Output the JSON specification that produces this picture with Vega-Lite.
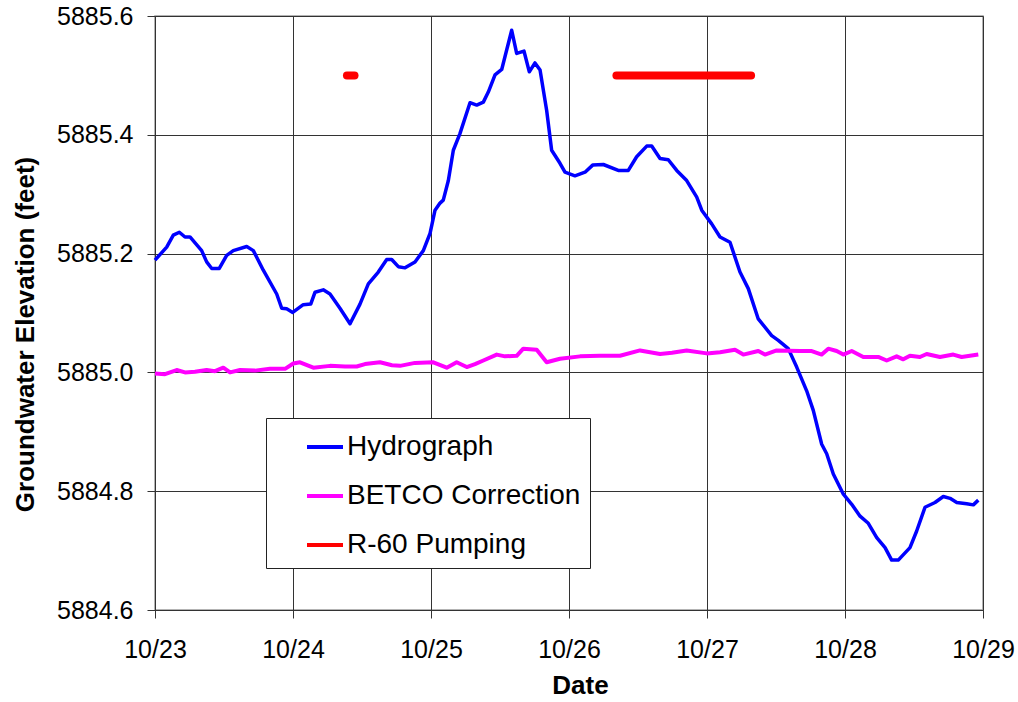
{
  "$schema": "https://vega.github.io/schema/vega-lite/v6.json",
  "autosize": {"type": "none"},
  "padding": {"left": 155, "top": 16, "right": 35, "bottom": 92},
  "width": 828,
  "height": 594,
  "background": "white",
  "config": {
    "font": "Liberation Sans",
    "view": {"stroke": "#9a9a9a", "strokeWidth": 1.5},
    "axis": {
      "labelFont": "Liberation Sans",
      "titleFont": "Liberation Sans",
      "labelColor": "black",
      "titleColor": "black",
      "domainColor": "#333333",
      "tickColor": "#333333",
      "gridColor": "#333333",
      "gridWidth": 1,
      "gridOpacity": 1,
      "tickSize": 8
    }
  },
  "data": {
    "values": [
      {"s": "Hydrograph", "g": 0, "t": "2008-10-23T00:00Z", "v": 5885.189},
      {"s": "Hydrograph", "g": 0, "t": "2008-10-23T02:02Z", "v": 5885.211},
      {"s": "Hydrograph", "g": 0, "t": "2008-10-23T03:11Z", "v": 5885.231},
      {"s": "Hydrograph", "g": 0, "t": "2008-10-23T04:14Z", "v": 5885.236},
      {"s": "Hydrograph", "g": 0, "t": "2008-10-23T05:13Z", "v": 5885.228},
      {"s": "Hydrograph", "g": 0, "t": "2008-10-23T06:05Z", "v": 5885.228},
      {"s": "Hydrograph", "g": 0, "t": "2008-10-23T08:07Z", "v": 5885.205},
      {"s": "Hydrograph", "g": 0, "t": "2008-10-23T08:59Z", "v": 5885.186},
      {"s": "Hydrograph", "g": 0, "t": "2008-10-23T09:52Z", "v": 5885.175},
      {"s": "Hydrograph", "g": 0, "t": "2008-10-23T11:11Z", "v": 5885.175},
      {"s": "Hydrograph", "g": 0, "t": "2008-10-23T12:28Z", "v": 5885.197},
      {"s": "Hydrograph", "g": 0, "t": "2008-10-23T13:37Z", "v": 5885.205},
      {"s": "Hydrograph", "g": 0, "t": "2008-10-23T15:57Z", "v": 5885.212},
      {"s": "Hydrograph", "g": 0, "t": "2008-10-23T17:06Z", "v": 5885.205},
      {"s": "Hydrograph", "g": 0, "t": "2008-10-23T18:50Z", "v": 5885.172},
      {"s": "Hydrograph", "g": 0, "t": "2008-10-23T21:10Z", "v": 5885.132},
      {"s": "Hydrograph", "g": 0, "t": "2008-10-23T22:02Z", "v": 5885.108},
      {"s": "Hydrograph", "g": 0, "t": "2008-10-23T22:54Z", "v": 5885.107},
      {"s": "Hydrograph", "g": 0, "t": "2008-10-23T23:57Z", "v": 5885.101},
      {"s": "Hydrograph", "g": 0, "t": "2008-10-24T01:47Z", "v": 5885.114},
      {"s": "Hydrograph", "g": 0, "t": "2008-10-24T03:05Z", "v": 5885.115},
      {"s": "Hydrograph", "g": 0, "t": "2008-10-24T03:50Z", "v": 5885.135},
      {"s": "Hydrograph", "g": 0, "t": "2008-10-24T05:16Z", "v": 5885.139},
      {"s": "Hydrograph", "g": 0, "t": "2008-10-24T06:26Z", "v": 5885.132},
      {"s": "Hydrograph", "g": 0, "t": "2008-10-24T08:10Z", "v": 5885.108},
      {"s": "Hydrograph", "g": 0, "t": "2008-10-24T09:55Z", "v": 5885.082},
      {"s": "Hydrograph", "g": 0, "t": "2008-10-24T11:39Z", "v": 5885.115},
      {"s": "Hydrograph", "g": 0, "t": "2008-10-24T13:06Z", "v": 5885.149},
      {"s": "Hydrograph", "g": 0, "t": "2008-10-24T14:50Z", "v": 5885.169},
      {"s": "Hydrograph", "g": 0, "t": "2008-10-24T16:18Z", "v": 5885.190},
      {"s": "Hydrograph", "g": 0, "t": "2008-10-24T17:10Z", "v": 5885.190},
      {"s": "Hydrograph", "g": 0, "t": "2008-10-24T18:19Z", "v": 5885.178},
      {"s": "Hydrograph", "g": 0, "t": "2008-10-24T19:29Z", "v": 5885.176},
      {"s": "Hydrograph", "g": 0, "t": "2008-10-24T21:13Z", "v": 5885.186},
      {"s": "Hydrograph", "g": 0, "t": "2008-10-24T22:40Z", "v": 5885.205},
      {"s": "Hydrograph", "g": 0, "t": "2008-10-24T23:50Z", "v": 5885.234},
      {"s": "Hydrograph", "g": 0, "t": "2008-10-25T00:42Z", "v": 5885.273},
      {"s": "Hydrograph", "g": 0, "t": "2008-10-25T01:34Z", "v": 5885.285},
      {"s": "Hydrograph", "g": 0, "t": "2008-10-25T02:08Z", "v": 5885.290},
      {"s": "Hydrograph", "g": 0, "t": "2008-10-25T03:01Z", "v": 5885.323},
      {"s": "Hydrograph", "g": 0, "t": "2008-10-25T03:53Z", "v": 5885.374},
      {"s": "Hydrograph", "g": 0, "t": "2008-10-25T05:02Z", "v": 5885.402},
      {"s": "Hydrograph", "g": 0, "t": "2008-10-25T06:47Z", "v": 5885.454},
      {"s": "Hydrograph", "g": 0, "t": "2008-10-25T07:57Z", "v": 5885.450},
      {"s": "Hydrograph", "g": 0, "t": "2008-10-25T09:06Z", "v": 5885.455},
      {"s": "Hydrograph", "g": 0, "t": "2008-10-25T09:58Z", "v": 5885.472},
      {"s": "Hydrograph", "g": 0, "t": "2008-10-25T11:08Z", "v": 5885.501},
      {"s": "Hydrograph", "g": 0, "t": "2008-10-25T12:18Z", "v": 5885.510},
      {"s": "Hydrograph", "g": 0, "t": "2008-10-25T14:02Z", "v": 5885.576},
      {"s": "Hydrograph", "g": 0, "t": "2008-10-25T14:54Z", "v": 5885.537},
      {"s": "Hydrograph", "g": 0, "t": "2008-10-25T16:10Z", "v": 5885.541},
      {"s": "Hydrograph", "g": 0, "t": "2008-10-25T17:06Z", "v": 5885.506},
      {"s": "Hydrograph", "g": 0, "t": "2008-10-25T18:05Z", "v": 5885.521},
      {"s": "Hydrograph", "g": 0, "t": "2008-10-25T18:58Z", "v": 5885.509},
      {"s": "Hydrograph", "g": 0, "t": "2008-10-25T20:07Z", "v": 5885.441},
      {"s": "Hydrograph", "g": 0, "t": "2008-10-25T20:59Z", "v": 5885.374},
      {"s": "Hydrograph", "g": 0, "t": "2008-10-25T22:26Z", "v": 5885.352},
      {"s": "Hydrograph", "g": 0, "t": "2008-10-25T23:18Z", "v": 5885.337},
      {"s": "Hydrograph", "g": 0, "t": "2008-10-26T01:02Z", "v": 5885.331},
      {"s": "Hydrograph", "g": 0, "t": "2008-10-26T02:47Z", "v": 5885.337},
      {"s": "Hydrograph", "g": 0, "t": "2008-10-26T04:07Z", "v": 5885.349},
      {"s": "Hydrograph", "g": 0, "t": "2008-10-26T05:58Z", "v": 5885.350},
      {"s": "Hydrograph", "g": 0, "t": "2008-10-26T08:34Z", "v": 5885.340},
      {"s": "Hydrograph", "g": 0, "t": "2008-10-26T10:19Z", "v": 5885.340},
      {"s": "Hydrograph", "g": 0, "t": "2008-10-26T11:46Z", "v": 5885.363},
      {"s": "Hydrograph", "g": 0, "t": "2008-10-26T13:31Z", "v": 5885.381},
      {"s": "Hydrograph", "g": 0, "t": "2008-10-26T14:23Z", "v": 5885.381},
      {"s": "Hydrograph", "g": 0, "t": "2008-10-26T15:50Z", "v": 5885.360},
      {"s": "Hydrograph", "g": 0, "t": "2008-10-26T17:16Z", "v": 5885.358},
      {"s": "Hydrograph", "g": 0, "t": "2008-10-26T18:44Z", "v": 5885.340},
      {"s": "Hydrograph", "g": 0, "t": "2008-10-26T20:28Z", "v": 5885.323},
      {"s": "Hydrograph", "g": 0, "t": "2008-10-26T22:13Z", "v": 5885.295},
      {"s": "Hydrograph", "g": 0, "t": "2008-10-26T23:05Z", "v": 5885.273},
      {"s": "Hydrograph", "g": 0, "t": "2008-10-27T00:49Z", "v": 5885.250},
      {"s": "Hydrograph", "g": 0, "t": "2008-10-27T02:16Z", "v": 5885.228},
      {"s": "Hydrograph", "g": 0, "t": "2008-10-27T04:00Z", "v": 5885.219},
      {"s": "Hydrograph", "g": 0, "t": "2008-10-27T05:44Z", "v": 5885.169},
      {"s": "Hydrograph", "g": 0, "t": "2008-10-27T07:11Z", "v": 5885.141},
      {"s": "Hydrograph", "g": 0, "t": "2008-10-27T08:55Z", "v": 5885.090},
      {"s": "Hydrograph", "g": 0, "t": "2008-10-27T11:15Z", "v": 5885.062},
      {"s": "Hydrograph", "g": 0, "t": "2008-10-27T12:24Z", "v": 5885.054},
      {"s": "Hydrograph", "g": 0, "t": "2008-10-27T14:08Z", "v": 5885.040},
      {"s": "Hydrograph", "g": 0, "t": "2008-10-27T15:36Z", "v": 5885.009},
      {"s": "Hydrograph", "g": 0, "t": "2008-10-27T17:20Z", "v": 5884.969},
      {"s": "Hydrograph", "g": 0, "t": "2008-10-27T18:29Z", "v": 5884.936},
      {"s": "Hydrograph", "g": 0, "t": "2008-10-27T19:57Z", "v": 5884.879},
      {"s": "Hydrograph", "g": 0, "t": "2008-10-27T20:49Z", "v": 5884.863},
      {"s": "Hydrograph", "g": 0, "t": "2008-10-27T21:58Z", "v": 5884.829},
      {"s": "Hydrograph", "g": 0, "t": "2008-10-27T23:43Z", "v": 5884.795},
      {"s": "Hydrograph", "g": 0, "t": "2008-10-28T01:10Z", "v": 5884.778},
      {"s": "Hydrograph", "g": 0, "t": "2008-10-28T02:37Z", "v": 5884.758},
      {"s": "Hydrograph", "g": 0, "t": "2008-10-28T04:03Z", "v": 5884.746},
      {"s": "Hydrograph", "g": 0, "t": "2008-10-28T05:31Z", "v": 5884.722},
      {"s": "Hydrograph", "g": 0, "t": "2008-10-28T06:58Z", "v": 5884.705},
      {"s": "Hydrograph", "g": 0, "t": "2008-10-28T08:07Z", "v": 5884.684},
      {"s": "Hydrograph", "g": 0, "t": "2008-10-28T09:16Z", "v": 5884.684},
      {"s": "Hydrograph", "g": 0, "t": "2008-10-28T11:18Z", "v": 5884.705},
      {"s": "Hydrograph", "g": 0, "t": "2008-10-28T12:28Z", "v": 5884.733},
      {"s": "Hydrograph", "g": 0, "t": "2008-10-28T13:55Z", "v": 5884.773},
      {"s": "Hydrograph", "g": 0, "t": "2008-10-28T15:39Z", "v": 5884.781},
      {"s": "Hydrograph", "g": 0, "t": "2008-10-28T17:06Z", "v": 5884.791},
      {"s": "Hydrograph", "g": 0, "t": "2008-10-28T18:16Z", "v": 5884.788},
      {"s": "Hydrograph", "g": 0, "t": "2008-10-28T19:26Z", "v": 5884.781},
      {"s": "Hydrograph", "g": 0, "t": "2008-10-28T21:10Z", "v": 5884.779},
      {"s": "Hydrograph", "g": 0, "t": "2008-10-28T22:19Z", "v": 5884.777},
      {"s": "Hydrograph", "g": 0, "t": "2008-10-28T23:11Z", "v": 5884.785},

      {"s": "BETCO Correction", "g": 0, "t": "2008-10-23T00:00Z", "v": 5884.998},
      {"s": "BETCO Correction", "g": 0, "t": "2008-10-23T01:44Z", "v": 5884.997},
      {"s": "BETCO Correction", "g": 0, "t": "2008-10-23T03:46Z", "v": 5885.004},
      {"s": "BETCO Correction", "g": 0, "t": "2008-10-23T05:13Z", "v": 5885.000},
      {"s": "BETCO Correction", "g": 0, "t": "2008-10-23T06:57Z", "v": 5885.001},
      {"s": "BETCO Correction", "g": 0, "t": "2008-10-23T08:59Z", "v": 5885.004},
      {"s": "BETCO Correction", "g": 0, "t": "2008-10-23T10:26Z", "v": 5885.002},
      {"s": "BETCO Correction", "g": 0, "t": "2008-10-23T11:53Z", "v": 5885.008},
      {"s": "BETCO Correction", "g": 0, "t": "2008-10-23T13:03Z", "v": 5885.000},
      {"s": "BETCO Correction", "g": 0, "t": "2008-10-23T14:47Z", "v": 5885.004},
      {"s": "BETCO Correction", "g": 0, "t": "2008-10-23T17:23Z", "v": 5885.003},
      {"s": "BETCO Correction", "g": 0, "t": "2008-10-23T20:00Z", "v": 5885.006},
      {"s": "BETCO Correction", "g": 0, "t": "2008-10-23T22:37Z", "v": 5885.006},
      {"s": "BETCO Correction", "g": 0, "t": "2008-10-24T00:03Z", "v": 5885.015},
      {"s": "BETCO Correction", "g": 0, "t": "2008-10-24T01:13Z", "v": 5885.017},
      {"s": "BETCO Correction", "g": 0, "t": "2008-10-24T03:32Z", "v": 5885.008},
      {"s": "BETCO Correction", "g": 0, "t": "2008-10-24T06:26Z", "v": 5885.011},
      {"s": "BETCO Correction", "g": 0, "t": "2008-10-24T09:03Z", "v": 5885.010},
      {"s": "BETCO Correction", "g": 0, "t": "2008-10-24T11:05Z", "v": 5885.010},
      {"s": "BETCO Correction", "g": 0, "t": "2008-10-24T12:31Z", "v": 5885.014},
      {"s": "BETCO Correction", "g": 0, "t": "2008-10-24T15:08Z", "v": 5885.017},
      {"s": "BETCO Correction", "g": 0, "t": "2008-10-24T17:13Z", "v": 5885.012},
      {"s": "BETCO Correction", "g": 0, "t": "2008-10-24T18:37Z", "v": 5885.011},
      {"s": "BETCO Correction", "g": 0, "t": "2008-10-24T21:13Z", "v": 5885.016},
      {"s": "BETCO Correction", "g": 0, "t": "2008-10-25T00:24Z", "v": 5885.017},
      {"s": "BETCO Correction", "g": 0, "t": "2008-10-25T02:44Z", "v": 5885.008},
      {"s": "BETCO Correction", "g": 0, "t": "2008-10-25T04:28Z", "v": 5885.017},
      {"s": "BETCO Correction", "g": 0, "t": "2008-10-25T06:13Z", "v": 5885.009},
      {"s": "BETCO Correction", "g": 0, "t": "2008-10-25T07:39Z", "v": 5885.014},
      {"s": "BETCO Correction", "g": 0, "t": "2008-10-25T09:06Z", "v": 5885.020},
      {"s": "BETCO Correction", "g": 0, "t": "2008-10-25T11:26Z", "v": 5885.030},
      {"s": "BETCO Correction", "g": 0, "t": "2008-10-25T12:52Z", "v": 5885.027},
      {"s": "BETCO Correction", "g": 0, "t": "2008-10-25T14:54Z", "v": 5885.028},
      {"s": "BETCO Correction", "g": 0, "t": "2008-10-25T16:03Z", "v": 5885.040},
      {"s": "BETCO Correction", "g": 0, "t": "2008-10-25T18:23Z", "v": 5885.038},
      {"s": "BETCO Correction", "g": 0, "t": "2008-10-25T20:07Z", "v": 5885.017},
      {"s": "BETCO Correction", "g": 0, "t": "2008-10-25T22:26Z", "v": 5885.023},
      {"s": "BETCO Correction", "g": 0, "t": "2008-10-26T01:55Z", "v": 5885.027},
      {"s": "BETCO Correction", "g": 0, "t": "2008-10-26T05:23Z", "v": 5885.028},
      {"s": "BETCO Correction", "g": 0, "t": "2008-10-26T08:52Z", "v": 5885.028},
      {"s": "BETCO Correction", "g": 0, "t": "2008-10-26T12:21Z", "v": 5885.037},
      {"s": "BETCO Correction", "g": 0, "t": "2008-10-26T15:50Z", "v": 5885.031},
      {"s": "BETCO Correction", "g": 0, "t": "2008-10-26T17:55Z", "v": 5885.033},
      {"s": "BETCO Correction", "g": 0, "t": "2008-10-26T20:28Z", "v": 5885.037},
      {"s": "BETCO Correction", "g": 0, "t": "2008-10-26T23:57Z", "v": 5885.032},
      {"s": "BETCO Correction", "g": 0, "t": "2008-10-27T02:16Z", "v": 5885.034},
      {"s": "BETCO Correction", "g": 0, "t": "2008-10-27T04:52Z", "v": 5885.038},
      {"s": "BETCO Correction", "g": 0, "t": "2008-10-27T06:19Z", "v": 5885.030},
      {"s": "BETCO Correction", "g": 0, "t": "2008-10-27T08:55Z", "v": 5885.036},
      {"s": "BETCO Correction", "g": 0, "t": "2008-10-27T10:05Z", "v": 5885.030},
      {"s": "BETCO Correction", "g": 0, "t": "2008-10-27T12:07Z", "v": 5885.037},
      {"s": "BETCO Correction", "g": 0, "t": "2008-10-27T16:10Z", "v": 5885.036},
      {"s": "BETCO Correction", "g": 0, "t": "2008-10-27T18:13Z", "v": 5885.036},
      {"s": "BETCO Correction", "g": 0, "t": "2008-10-27T19:57Z", "v": 5885.030},
      {"s": "BETCO Correction", "g": 0, "t": "2008-10-27T21:06Z", "v": 5885.040},
      {"s": "BETCO Correction", "g": 0, "t": "2008-10-27T22:33Z", "v": 5885.036},
      {"s": "BETCO Correction", "g": 0, "t": "2008-10-27T23:43Z", "v": 5885.030},
      {"s": "BETCO Correction", "g": 0, "t": "2008-10-28T01:10Z", "v": 5885.036},
      {"s": "BETCO Correction", "g": 0, "t": "2008-10-28T03:11Z", "v": 5885.026},
      {"s": "BETCO Correction", "g": 0, "t": "2008-10-28T05:47Z", "v": 5885.026},
      {"s": "BETCO Correction", "g": 0, "t": "2008-10-28T07:15Z", "v": 5885.020},
      {"s": "BETCO Correction", "g": 0, "t": "2008-10-28T08:59Z", "v": 5885.027},
      {"s": "BETCO Correction", "g": 0, "t": "2008-10-28T10:08Z", "v": 5885.022},
      {"s": "BETCO Correction", "g": 0, "t": "2008-10-28T11:18Z", "v": 5885.028},
      {"s": "BETCO Correction", "g": 0, "t": "2008-10-28T13:02Z", "v": 5885.026},
      {"s": "BETCO Correction", "g": 0, "t": "2008-10-28T14:12Z", "v": 5885.031},
      {"s": "BETCO Correction", "g": 0, "t": "2008-10-28T16:31Z", "v": 5885.026},
      {"s": "BETCO Correction", "g": 0, "t": "2008-10-28T18:50Z", "v": 5885.030},
      {"s": "BETCO Correction", "g": 0, "t": "2008-10-28T20:17Z", "v": 5885.026},
      {"s": "BETCO Correction", "g": 0, "t": "2008-10-28T21:44Z", "v": 5885.028},
      {"s": "BETCO Correction", "g": 0, "t": "2008-10-28T23:11Z", "v": 5885.030},

      {"s": "R-60 Pumping", "g": 1, "t": "2008-10-24T09:23Z", "v": 5885.5},
      {"s": "R-60 Pumping", "g": 1, "t": "2008-10-24T10:42Z", "v": 5885.5},
      {"s": "R-60 Pumping", "g": 2, "t": "2008-10-26T08:15Z", "v": 5885.5},
      {"s": "R-60 Pumping", "g": 2, "t": "2008-10-27T07:40Z", "v": 5885.5}
    ]
  },
  "encoding": {
    "x": {
      "field": "t",
      "type": "temporal",
      "scale": {
        "type": "utc",
        "domain": [
          {"year": 2008, "month": 10, "date": 23, "utc": true},
          {"year": 2008, "month": 10, "date": 29, "utc": true}
        ],
        "nice": false
      },
      "axis": {
        "title": "Date",
        "labelExpr": "utcFormat(datum.value, '%m/%d')",
        "values": [
          {"year": 2008, "month": 10, "date": 23, "utc": true},
          {"year": 2008, "month": 10, "date": 24, "utc": true},
          {"year": 2008, "month": 10, "date": 25, "utc": true},
          {"year": 2008, "month": 10, "date": 26, "utc": true},
          {"year": 2008, "month": 10, "date": 27, "utc": true},
          {"year": 2008, "month": 10, "date": 28, "utc": true},
          {"year": 2008, "month": 10, "date": 29, "utc": true}
        ],
        "labelFontSize": 25,
        "labelPadding": 19,
        "labelFlush": false,
        "labelOverlap": false,
        "titleFontSize": 26,
        "titleFontWeight": "bold",
        "titleX": 425,
        "titleY": 83,
        "titleBaseline": "alphabetic",
        "titleAlign": "center"
      }
    },
    "y": {
      "field": "v",
      "type": "quantitative",
      "scale": {"domain": [5884.6, 5885.6], "nice": false, "zero": false},
      "axis": {
        "title": "Groundwater Elevation (feet)",
        "values": [5884.6, 5884.8, 5885.0, 5885.2, 5885.4, 5885.6],
        "format": ".1f",
        "labelFontSize": 25,
        "labelPadding": 14,
        "labelFlush": false,
        "labelOverlap": false,
        "titleFontSize": 26,
        "titleFontWeight": "bold",
        "titleAngle": -90,
        "titleX": -122,
        "titleY": 318,
        "titleBaseline": "alphabetic",
        "titleAlign": "center"
      }
    },
    "color": {
      "field": "s",
      "type": "nominal",
      "scale": {
        "domain": ["Hydrograph", "BETCO Correction", "R-60 Pumping"],
        "range": ["#0000ff", "#ff00ff", "#ff0000"]
      },
      "legend": {
        "title": null,
        "orient": "none",
        "legendX": 111,
        "legendY": 402,
        "fillColor": "white",
        "strokeColor": "#222222",
        "padding": 9,
        "symbolType": "stroke",
        "symbolSize": 1296,
        "symbolStrokeWidth": 4,
        "symbolOffset": 30,
        "labelOffset": 2,
        "labelFont": "Liberation Sans",
        "labelFontSize": 28,
        "labelColor": "black",
        "labelExpr": "datum.label + '\u2003\u2002'",
        "rowPadding": 15,
        "labelLimit": 500
      }
    }
  },
  "layer": [
    {
      "transform": [{"filter": "datum.s === 'Hydrograph'"}],
      "mark": {"type": "line", "strokeWidth": 3.5, "strokeJoin": "round"}
    },
    {
      "transform": [{"filter": "datum.s === 'BETCO Correction'"}],
      "mark": {"type": "line", "strokeWidth": 4, "strokeJoin": "round"}
    },
    {
      "transform": [{"filter": "datum.s === 'R-60 Pumping'"}],
      "mark": {"type": "line", "strokeWidth": 8, "strokeCap": "round"},
      "encoding": {"detail": {"field": "g", "type": "nominal"}}
    }
  ]
}
